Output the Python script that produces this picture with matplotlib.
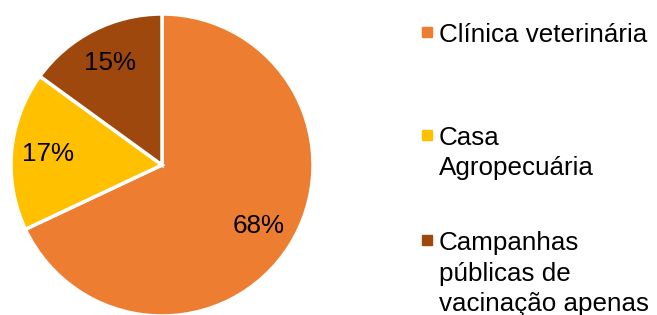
import matplotlib
matplotlib.use("Agg")
import matplotlib.pyplot as plt
from matplotlib.patches import Rectangle

plt.rcParams['font.family'] = ['Liberation Sans', 'DejaVu Sans']

# data
categories = ["Clínica veterinária", "Casa\nAgropecuária", "Campanhas\npúblicas de\nvacinação apenas"]
values = [68, 17, 15]
colors = ["#ED7D31", "#FFC000", "#9E480E"]

W, H = 657, 315
fig = plt.figure(figsize=(W / 100, H / 100), dpi=100)

# pie axes placed in pixel terms: centre (162, 165) from top, radius 151
cx, cy, r = 162, 165, 151
ax = fig.add_axes([(cx - r) / W, (H - cy - r) / H, 2 * r / W, 2 * r / H])
ax.pie(values, colors=colors, startangle=90, counterclock=False,
       autopct=lambda p: f"{p:.0f}%", pctdistance=0.76,
       wedgeprops=dict(edgecolor="white", linewidth=2.5),
       textprops=dict(fontsize=18.7, color="black"))
ax.set_xlim(-1, 1)
ax.set_ylim(-1, 1)
ax.set_aspect("equal")

# manual legend
first_baselines = [42, 145, 250]
line_step = 30.5
for label, color, y0 in zip(categories, colors, first_baselines):
    fig.patches.append(Rectangle((422 / W, 1 - (y0 - 5) / H), 10 / W, 10 / H,
                                 transform=fig.transFigure, color=color))
    for i, line in enumerate(label.split("\n")):
        fig.text(439 / W, 1 - (y0 + i * line_step) / H, line,
                 fontsize=18.7, va="baseline", ha="left")

plt.savefig("out.png", dpi=100)
